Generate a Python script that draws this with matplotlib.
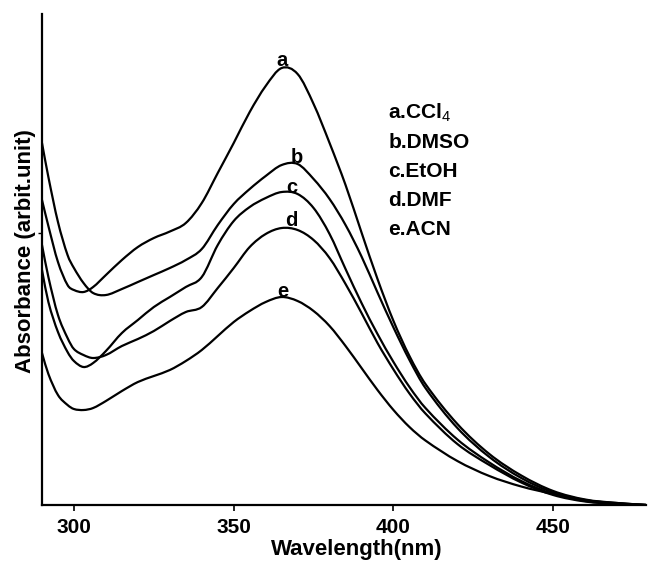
import matplotlib
matplotlib.use('Agg')
import matplotlib.pyplot as plt
from matplotlib.path import Path
from matplotlib.patches import PathPatch

plt.rcParams['font.family'] = ['Liberation Sans', 'DejaVu Sans']
plt.rcParams['mathtext.fontset'] = 'custom'
plt.rcParams['mathtext.rm'] = 'Liberation Sans'

# Wavelength grid (nm) and absorbance (arbitrary units)
wavelength = [290, 292, 295, 298, 300, 303, 306, 310, 315, 320, 325, 330, 335,
              340, 345, 350, 355, 360, 365, 370, 375, 380, 385, 390, 395, 400,
              405, 410, 420, 430, 440, 450, 460, 470, 479]

abs_ccl4 = [0.610, 0.558, 0.486, 0.440, 0.430, 0.426, 0.436, 0.460, 0.490, 0.516,
            0.534, 0.547, 0.564, 0.604, 0.664, 0.724, 0.786, 0.838, 0.874, 0.862,
            0.802, 0.724, 0.640, 0.545, 0.452, 0.368, 0.298, 0.242, 0.162, 0.102,
            0.059, 0.028, 0.011, 0.004, 0.0]
abs_dmso = [0.724, 0.656, 0.566, 0.500, 0.474, 0.444, 0.424, 0.420, 0.432, 0.446,
            0.460, 0.474, 0.490, 0.512, 0.560, 0.602, 0.632, 0.658, 0.680, 0.682,
            0.652, 0.612, 0.560, 0.497, 0.425, 0.355, 0.290, 0.234, 0.154, 0.096,
            0.054, 0.025, 0.010, 0.003, 0.0]
abs_etoh = [0.470, 0.406, 0.346, 0.306, 0.288, 0.276, 0.284, 0.308, 0.344, 0.370,
            0.396, 0.416, 0.436, 0.456, 0.520, 0.568, 0.596, 0.614, 0.626, 0.622,
            0.594, 0.542, 0.472, 0.404, 0.342, 0.286, 0.236, 0.194, 0.131, 0.085,
            0.048, 0.022, 0.008, 0.002, 0.0]
abs_dmf = [0.520, 0.456, 0.380, 0.334, 0.312, 0.300, 0.294, 0.300, 0.318, 0.332,
           0.348, 0.368, 0.386, 0.396, 0.434, 0.474, 0.516, 0.542, 0.554, 0.550,
           0.530, 0.494, 0.442, 0.384, 0.324, 0.271, 0.223, 0.183, 0.122, 0.080,
           0.045, 0.020, 0.007, 0.002, 0.0]
abs_acn = [0.304, 0.262, 0.220, 0.200, 0.192, 0.190, 0.194, 0.208, 0.228, 0.246,
           0.258, 0.270, 0.288, 0.310, 0.338, 0.366, 0.388, 0.406, 0.416, 0.408,
           0.388, 0.358, 0.318, 0.274, 0.230, 0.190, 0.156, 0.129, 0.088, 0.058,
           0.037, 0.022, 0.009, 0.004, 0.0]

curve_letters = ['a', 'b', 'c', 'd', 'e']
solvents = ['CCl$_4$', 'DMSO', 'EtOH', 'DMF', 'ACN']
series = [abs_ccl4, abs_dmso, abs_etoh, abs_dmf, abs_acn]
# where each curve letter sits (wavelength, absorbance)
letter_pos = [(365.0, 0.89), (369.7, 0.696), (368.1, 0.636), (368.1, 0.57), (365.3, 0.428)]


def smooth_path(xs, ys):
    """Cubic Bezier path through the points (Hermite tangents)."""
    n = len(xs)
    slopes = []
    for i in range(n):
        lo, hi = max(i - 1, 0), min(i + 1, n - 1)
        slopes.append((ys[hi] - ys[lo]) / (xs[hi] - xs[lo]))
    verts = [(xs[0], ys[0])]
    codes = [Path.MOVETO]
    for i in range(n - 1):
        h = xs[i + 1] - xs[i]
        verts += [(xs[i] + h / 3, ys[i] + slopes[i] * h / 3),
                  (xs[i + 1] - h / 3, ys[i + 1] - slopes[i + 1] * h / 3),
                  (xs[i + 1], ys[i + 1])]
        codes += [Path.CURVE4] * 3
    return Path(verts, codes)


fig = plt.figure(figsize=(6.48, 5.61), dpi=100)
ax = fig.add_axes([0.0648, 0.0998, 0.9320, 0.8752])

for ys in series:
    ax.add_patch(PathPatch(smooth_path(wavelength, ys), facecolor='none',
                           edgecolor='black', lw=1.6, capstyle='round', joinstyle='round'))

for letter, (x, y) in zip(curve_letters, letter_pos):
    ax.text(x, y, letter, ha='center', va='center', fontsize=14.5, fontweight='bold')

# Solvent key
for i, (letter, name) in enumerate(zip(curve_letters, solvents)):
    ax.text(398.4, 0.784 - i * 0.058, f'{letter}.{name}', ha='left', va='center',
            fontsize=15, fontweight='bold')

ax.set_xlim(290, 479)
ax.set_ylim(0, 0.982)
ax.set_xticks([300, 350, 400, 450])
ax.set_yticks([0.544])
ax.set_yticklabels([])
ax.tick_params(axis='x', direction='out', length=4, width=1.2, pad=5, labelsize=15)
ax.tick_params(axis='y', direction='out', length=3, width=1.0)
for lab in ax.get_xticklabels():
    lab.set_fontweight('bold')

for side in ['top', 'right']:
    ax.spines[side].set_visible(False)
for side in ['left', 'bottom']:
    ax.spines[side].set_linewidth(1.6)

ax.set_xlabel('Wavelength(nm)', fontsize=16, fontweight='bold', va='center')
ax.xaxis.set_label_coords(0.5215, -0.0896)
ax.set_ylabel('Absorbance (arbit.unit)', fontsize=16, fontweight='bold', va='center')
ax.yaxis.set_label_coords(-0.0268, 0.517)

fig.savefig('out.png', dpi=100)
